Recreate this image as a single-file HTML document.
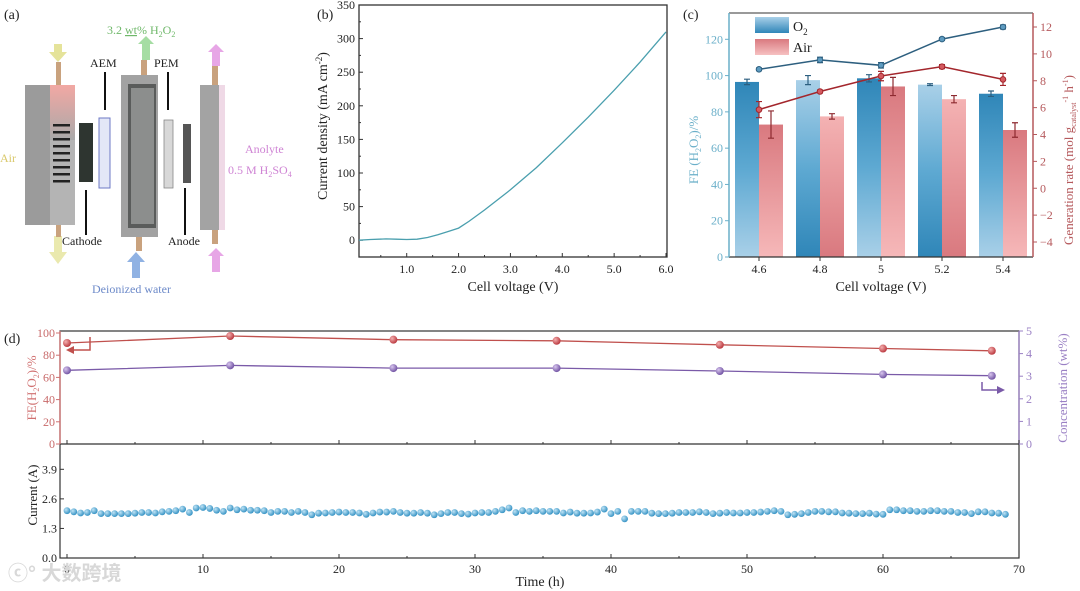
<!DOCTYPE html>
<html><head><meta charset="utf-8">
<style>
html,body{margin:0;padding:0;background:#fff;}
svg{display:block;font-family:"Liberation Serif","Noto Serif CJK SC",serif;}
</style></head>
<body>
<svg id="fig" width="1080" height="591" viewBox="0 0 1080 591" xmlns="http://www.w3.org/2000/svg">
<defs>
  <linearGradient id="gBlueDark" x1="0" y1="0" x2="0" y2="1"><stop offset="0" stop-color="#2f86b8"/><stop offset="0.5" stop-color="#5ea9d2"/><stop offset="1" stop-color="#a9d0e8"/></linearGradient>
  <linearGradient id="gBlueLight" x1="0" y1="0" x2="0" y2="1"><stop offset="0" stop-color="#a9d0e8"/><stop offset="0.5" stop-color="#5ea9d2"/><stop offset="1" stop-color="#2f86b8"/></linearGradient>
  <linearGradient id="gRedDark" x1="0" y1="0" x2="0" y2="1"><stop offset="0" stop-color="#f4b2b3"/><stop offset="1" stop-color="#d9797f"/></linearGradient>
  <linearGradient id="gRedLight" x1="0" y1="0" x2="0" y2="1"><stop offset="0" stop-color="#d9797f"/><stop offset="1" stop-color="#f6b8b9"/></linearGradient>
  <linearGradient id="gLegB" x1="0" y1="0" x2="0" y2="1"><stop offset="0" stop-color="#a9d0e8"/><stop offset="1" stop-color="#2f86b8"/></linearGradient>
  <linearGradient id="gLegR" x1="0" y1="0" x2="0" y2="1"><stop offset="0" stop-color="#d9797f"/><stop offset="1" stop-color="#f6c0c1"/></linearGradient>
  <radialGradient id="gBall" cx="0.35" cy="0.35" r="0.7"><stop offset="0" stop-color="#bfe3f5"/><stop offset="1" stop-color="#2f8fc2"/></radialGradient>
  <radialGradient id="gRedBall" cx="0.35" cy="0.35" r="0.7"><stop offset="0" stop-color="#f4b0b0"/><stop offset="1" stop-color="#b8333a"/></radialGradient>
  <radialGradient id="gPurBall" cx="0.35" cy="0.35" r="0.7"><stop offset="0" stop-color="#d8c6ee"/><stop offset="1" stop-color="#6d4ea0"/></radialGradient>
  <linearGradient id="gPink" x1="0" y1="0" x2="0" y2="1"><stop offset="0" stop-color="#f2a8a3"/><stop offset="1" stop-color="#a9a9a9"/></linearGradient>
</defs>

<g id="panel-a">
  <text x="4" y="19" font-size="14" fill="#222">(a)</text>
  <text x="107" y="34" font-size="12" fill="#6fb86a">3.2 <tspan text-decoration="underline">wt</tspan>% H<tspan font-size="8" dy="3">2</tspan><tspan dy="-3">O</tspan><tspan font-size="8" dy="3">2</tspan></text>
  <polygon points="138,44 146,36 154,44 150,44 150,60 142,60 142,44" fill="#8fd48c" opacity="0.8"/>
  <polygon points="54,44 62,44 62,52 67,52 58,62 49,52 54,52" fill="#e5e39a"/>
  <polygon points="54,236 62,236 62,252 67,252 58,264 49,252 54,252" fill="#e5e39a" opacity="0.8"/>
  <polygon points="208,52 216,44 224,52 220,52 220,66 212,66 212,52" fill="#e7a6e6"/>
  <polygon points="208,256 216,248 224,256 220,256 220,272 212,272 212,256" fill="#e7a6e6"/>
  <polygon points="127,262 136,252 145,262 140,262 140,278 132,278 132,262" fill="#90b2e3"/>
  <rect x="56" y="62" width="5" height="23" fill="#c9a27e"/>
  <rect x="56" y="225" width="5" height="12" fill="#c9a27e"/>
  <rect x="141" y="60" width="6" height="16" fill="#c9a27e"/>
  <rect x="136" y="237" width="6" height="14" fill="#c9a27e"/>
  <rect x="212" y="66" width="6" height="19" fill="#c9a27e"/>
  <rect x="212" y="230" width="6" height="14" fill="#c9a27e"/>
  <rect x="25" y="85" width="50" height="140" fill="#9b9b9b"/>
  <rect x="50" y="85" width="25" height="140" fill="#b4b4b4"/>
  <rect x="50" y="85" width="25" height="55" fill="url(#gPink)"/>
  <g fill="#222">
    <rect x="53" y="124" width="17" height="2.5"/><rect x="53" y="131" width="17" height="2.5"/><rect x="53" y="138" width="17" height="2.5"/>
    <rect x="53" y="145" width="17" height="2.5"/><rect x="53" y="152" width="17" height="2.5"/><rect x="53" y="159" width="17" height="2.5"/>
    <rect x="53" y="166" width="17" height="2.5"/><rect x="53" y="173" width="17" height="2.5"/><rect x="53" y="180" width="17" height="2.5"/>
  </g>
  <rect x="79" y="123" width="14" height="59" fill="#2e3530"/>
  <rect x="99" y="118" width="11" height="70" fill="#e3e7f7" stroke="#6d78c6" stroke-width="1"/>
  <rect x="121" y="75" width="37" height="162" fill="#a2a2a2"/>
  <rect x="128" y="84" width="28" height="144" fill="#5a5c5b"/>
  <rect x="131" y="88" width="23" height="136" fill="#8c8e8d"/>
  <rect x="164" y="120" width="9" height="68" fill="#d8d8d8" stroke="#888" stroke-width="0.8"/>
  <rect x="183" y="124" width="8" height="59" fill="#555"/>
  <rect x="200" y="85" width="21" height="145" fill="#a3a3a3"/>
  <rect x="219" y="85" width="6" height="145" fill="#efd9e6"/>
  <g stroke="#111" stroke-width="2">
    <line x1="105" y1="72" x2="105" y2="110"/><line x1="86" y1="190" x2="86" y2="235"/>
    <line x1="168" y1="72" x2="168" y2="110"/><line x1="185" y1="188" x2="185" y2="235"/>
  </g>
  <text x="90" y="67" font-size="12" fill="#222">AEM</text>
  <text x="154" y="67" font-size="12" fill="#222">PEM</text>
  <text x="0" y="162" font-size="12" fill="#d9c86a">Air</text>
  <text x="245" y="153" font-size="12" fill="#cf84d4">Anolyte</text>
  <text x="228" y="174" font-size="12" fill="#cf84d4">0.5 M H<tspan font-size="8" dy="3">2</tspan><tspan dy="-3">SO</tspan><tspan font-size="8" dy="3">4</tspan></text>
  <text x="62" y="245" font-size="12" fill="#222">Cathode</text>
  <text x="168" y="245" font-size="12" fill="#222">Anode</text>
  <text x="92" y="293" font-size="12" fill="#6d8ac9">Deionized water</text>
</g>

<g id="panel-b"></g>
<g id="panel-c"></g>
<g id="panel-d"></g>
<text x="8" y="580" font-size="20" fill="#d8d8d8" font-family="'Liberation Sans','Noto Sans CJK SC',sans-serif" font-weight="bold">ⓒ° 大数跨境</text>
</svg>
<script>
const bVolt = [0.08,0.3,0.6,0.8,1.0,1.2,1.4,1.6,1.8,2.0,2.2,2.5,3.0,3.5,4.0,4.5,5.0,5.5,6.0];
const bCurr = [0,1,2,1.5,1,1.5,4,8,13,18,28,45,75,108,145,183,223,265,310];
const bXTicks = [1.0,2.0,3.0,4.0,5.0,6.0];
const bYTicks = [0,50,100,150,200,250,300,350];
const cCats = ['4.6','4.8','5','5.2','5.4'];
const cFeO2 = [96.5,97.5,98.5,95,90];
const cFeO2Err = [1.5,2.5,2,0.5,1.5];
const cFeAir = [73,77.5,94,87,70];
const cFeAirErr = [7.5,1.5,5,2,4];
const cRateO2 = [8.85,9.55,9.15,11.1,12.0];
const cRateO2Err = [0.1,0.2,0.2,0.1,0.15];
const cRateAir = [5.85,7.2,8.35,9.05,8.1];
const cRateAirErr = [0.6,0.1,0.35,0.15,0.45];
const cLeftTicks = [0,20,40,60,80,100,120];
const cRightTicks = [-4,-2,0,2,4,6,8,10,12];
const dSampleTimes = [0,12,24,36,48,60,68];
const dFE = [91,97.3,94,93,89.4,86,84];
const dConc = [3.26,3.48,3.36,3.36,3.23,3.08,3.02];
const dCurrent = [
2.08,2.03,1.98,2.0,2.08,1.95,1.95,1.95,1.95,1.95,
1.97,2.0,2.0,1.98,2.03,2.05,2.08,2.15,2.0,2.2,
2.22,2.18,2.1,2.05,2.2,2.12,2.15,2.1,2.1,2.08,
2.0,2.05,2.05,2.0,2.05,2.0,1.9,1.97,1.98,2.0,
2.02,2.0,2.0,1.98,1.92,1.98,2.02,2.02,2.05,2.0,
1.97,1.97,2.0,1.97,1.9,1.95,2.0,2.0,1.95,1.93,
1.98,2.0,2.0,2.05,2.12,2.2,2.0,2.08,2.05,2.08,
2.05,2.05,2.05,1.98,2.02,1.97,1.97,1.98,2.02,2.15,
1.95,2.05,1.72,2.05,2.05,2.05,1.97,1.95,1.95,1.97,
2.0,2.0,2.0,2.03,2.0,1.95,1.97,2.0,1.98,1.98,
2.0,2.0,2.02,2.05,2.08,2.05,1.9,1.92,1.95,2.0,
2.05,2.05,2.03,2.03,1.98,1.97,1.95,1.95,1.97,1.93,
1.92,2.12,2.12,2.08,2.08,2.05,2.05,2.08,2.08,2.05,
2.05,2.0,2.0,1.95,2.03,2.03,1.98,1.97,1.92];
const dCurrentStep = 0.5;
const dXTicks = [0,10,20,30,40,50,60,70];
const dFETicks = [0,20,40,60,80,100];
const dConcTicks = [0,1,2,3,4,5];
const dCurTicks = [0.0,1.3,2.6,3.9];

const NS='http://www.w3.org/2000/svg';
function mk(parent,tag,attrs,text){const e=document.createElementNS(NS,tag);for(const k in attrs)e.setAttribute(k,attrs[k]);if(text!==undefined)e.textContent=text;parent.appendChild(e);return e;}
function lin(d0,d1,r0,r1){return v=>r0+(v-d0)/(d1-d0)*(r1-r0);}

(function(){
const g=document.getElementById('panel-b');
const L=359,R=667,T=5,B=257;
const x=lin(0.08,6.0,L,666), y=lin(-25,350,B,T);
let e=mk(g,'rect',{x:L,y:T,width:R-L,height:B-T,fill:'none',stroke:'#333','stroke-width':1.3});


bXTicks.forEach(v=>{mk(g,'line',{x1:x(v),x2:x(v),y1:B,y2:B-4,stroke:'#333'});
 e=mk(g,'text',{x:x(v),y:B+16,'font-size':12,'text-anchor':'middle',fill:'#222'},v.toFixed(1));
 
 
 mk(g,'line',{x1:x(v-0.5),x2:x(v-0.5),y1:B,y2:B-2,stroke:'#333'});});
bYTicks.forEach(v=>{mk(g,'line',{x1:L,x2:L+4,y1:y(v),y2:y(v),stroke:'#333'});mk(g,'line',{x1:L,x2:L+2,y1:y(v+25),y2:y(v+25),stroke:'#333'});
 e=mk(g,'text',{x:L-4,y:y(v)+4,'font-size':12,'text-anchor':'end',fill:'#222'},v);
 
 });
e=mk(g,'text',{x:317,y:19,'font-size':14,fill:'#222'},'(b)');


e=mk(g,'text',{x:513,y:291,'font-size':14,'text-anchor':'middle',fill:'#222'},'Cell voltage (V)');


e=mk(g,'text',{x:0,y:0,'font-size':14,'text-anchor':'middle',fill:'#222',transform:'translate(327,126) rotate(-90)'});
e.innerHTML='Current density (mA cm<tspan font-size="9" dy="-5">-2</tspan><tspan dy="5">)</tspan>';


const pts=bVolt.map((v,i)=>x(v).toFixed(1)+','+y(bCurr[i]).toFixed(1)).join(' ');
e=mk(g,'polyline',{points:pts,fill:'none',stroke:'#4a9fae','stroke-width':1.3});


})();

(function(){
const g=document.getElementById('panel-c');
const L=729,R=1033,T=13,B=257;
const yL=lin(0,120,B,39.3), yR=lin(12,-4,27,242);
const step=61, x0=759;
const xc=i=>x0+i*step;
let e;
cCats.forEach((c,i)=>{
 e=mk(g,'rect',{x:xc(i)-24,y:yL(cFeO2[i]),width:24,height:B-yL(cFeO2[i]),fill:(i%2===0)?'url(#gBlueDark)':'url(#gBlueLight)'});
 
 
 e=mk(g,'rect',{x:xc(i),y:yL(cFeAir[i]),width:24,height:B-yL(cFeAir[i]),fill:(i%2===0)?'url(#gRedLight)':'url(#gRedDark)'});
 
 
 [[xc(i)-12,cFeO2[i],cFeO2Err[i],'#2c5f80'],[xc(i)+12,cFeAir[i],cFeAirErr[i],'#8e2a30']].forEach(a=>{
  const y1=yL(a[1]+a[2]),y2=yL(a[1]-a[2]);
  mk(g,'path',{d:`M${a[0]},${y1}V${y2}M${a[0]-3},${y1}h6M${a[0]-3},${y2}h6`,stroke:a[3],'stroke-width':1.2,fill:'none'});
 });
});
[[cRateO2,cRateO2Err,'#2d5f7f','#5e9bc0','rate-o2-line'],[cRateAir,cRateAirErr,'#a3262c','#d45a60','rate-air-line']].forEach(s=>{
 const pts=s[0].map((v,i)=>xc(i)+','+yR(v).toFixed(1)).join(' ');
 e=mk(g,'polyline',{points:pts,fill:'none',stroke:s[2],'stroke-width':1.5});
 
 
 s[0].forEach((v,i)=>{
  const y1=yR(v+s[1][i]),y2=yR(v-s[1][i]);
  mk(g,'path',{d:`M${xc(i)},${y1}V${y2}M${xc(i)-3},${y1}h6M${xc(i)-3},${y2}h6`,stroke:s[2],'stroke-width':1.2,fill:'none'});
  e=mk(g,'circle',{cx:xc(i),cy:yR(v),r:2.8,fill:s[3],stroke:s[2],'stroke-width':1});
  
  
 });
});
mk(g,'line',{x1:L,y1:T,x2:R,y2:T,stroke:'#333','stroke-width':1});
mk(g,'line',{x1:L,y1:B,x2:R,y2:B,stroke:'#333','stroke-width':1.3});
mk(g,'line',{x1:L,y1:T,x2:L,y2:B,stroke:'#6aafc9','stroke-width':1.5});
mk(g,'line',{x1:R,y1:T,x2:R,y2:B,stroke:'#b5595c','stroke-width':1.5});
cCats.forEach((c,i)=>{mk(g,'line',{x1:xc(i),x2:xc(i),y1:B,y2:B+4,stroke:'#333'});
 e=mk(g,'text',{x:xc(i),y:B+16,'font-size':12,'text-anchor':'middle',fill:'#222'},c);
 
 });
cLeftTicks.forEach(v=>{mk(g,'line',{x1:L,x2:L-4,y1:yL(v),y2:yL(v),stroke:'#6aafc9'});
 e=mk(g,'text',{x:L-6,y:yL(v)+4,'font-size':12,'text-anchor':'end',fill:'#6aafc9'},v);
 
 });
cRightTicks.forEach(v=>{mk(g,'line',{x1:R,x2:R+4,y1:yR(v),y2:yR(v),stroke:'#b5595c'});
 e=mk(g,'text',{x:R+7,y:yR(v)+4,'font-size':12,fill:'#b5595c'},v<0?'\u2212'+(-v):v);
 
 });
e=mk(g,'text',{x:683,y:19,'font-size':14,fill:'#222'},'(c)');


e=mk(g,'text',{x:881,y:291,'font-size':14,'text-anchor':'middle',fill:'#222'},'Cell voltage (V)');


e=mk(g,'text',{x:0,y:0,'font-size':13,'text-anchor':'middle',fill:'#6aafc9',transform:'translate(698,150) rotate(-90)'});
e.innerHTML='FE (H<tspan font-size="8" dy="3">2</tspan><tspan dy="-3">O</tspan><tspan font-size="8" dy="3">2</tspan><tspan dy="-3">)/%</tspan>';


e=mk(g,'text',{x:0,y:0,'font-size':13,'text-anchor':'middle',fill:'#b5595c',transform:'translate(1073,160) rotate(-90)'});
e.innerHTML='Generation rate (mol g<tspan font-size="8" dy="3">catalyst</tspan><tspan font-size="8" dy="-8">-1</tspan><tspan dy="5"> h</tspan><tspan font-size="8" dy="-5">-1</tspan><tspan dy="5">)</tspan>';


e=mk(g,'rect',{x:755,y:17,width:34,height:16,fill:'url(#gLegB)'});


e=mk(g,'text',{x:793,y:31,'font-size':14,fill:'#222'});
e.innerHTML='O<tspan font-size="9" dy="4">2</tspan>';


e=mk(g,'rect',{x:755,y:39,width:34,height:16,fill:'url(#gLegR)'});


e=mk(g,'text',{x:793,y:52,'font-size':14,fill:'#222'},'Air');


})();

(function(){
const g=document.getElementById('panel-d');
const L=60,R=1019,T=331,M=444,B=558;
const x=lin(0,70,67,1019);
const yFE=lin(0,100,M,333), yC=lin(0,5,M,331), yI=lin(0,3.9,B,469.3);
let e;
mk(g,'rect',{x:L,y:T,width:R-L,height:B-T,fill:'none',stroke:'#333','stroke-width':1.2});
mk(g,'line',{x1:L,y1:M,x2:R,y2:M,stroke:'#333','stroke-width':1.2});
mk(g,'line',{x1:L,y1:T,x2:L,y2:M,stroke:'#d07070','stroke-width':1.3});
mk(g,'line',{x1:R,y1:T,x2:R,y2:M,stroke:'#9a80c4','stroke-width':1.3});
dXTicks.forEach(v=>{mk(g,'line',{x1:x(v),x2:x(v),y1:B,y2:B-4,stroke:'#333'});mk(g,'line',{x1:x(v),x2:x(v),y1:M,y2:M-4,stroke:'#333'});
 if(v<70){mk(g,'line',{x1:x(v+5),x2:x(v+5),y1:B,y2:B-2,stroke:'#333'});mk(g,'line',{x1:x(v+5),x2:x(v+5),y1:M,y2:M-2,stroke:'#333'});}
 e=mk(g,'text',{x:x(v),y:B+15,'font-size':12,'text-anchor':'middle',fill:'#222'},v);
 
 });
dFETicks.forEach(v=>{mk(g,'line',{x1:L,x2:L-4,y1:yFE(v),y2:yFE(v),stroke:'#d07070'});
 e=mk(g,'text',{x:L-5,y:yFE(v)+4,'font-size':12,'text-anchor':'end',fill:'#c86a6a'},v);
 
 });
dConcTicks.forEach(v=>{mk(g,'line',{x1:R,x2:R+4,y1:yC(v),y2:yC(v),stroke:'#9a80c4'});
 e=mk(g,'text',{x:R+7,y:yC(v)+4,'font-size':12,fill:'#9a80c4'},v);
 
 });
dCurTicks.forEach(v=>{mk(g,'line',{x1:L,x2:L+4,y1:yI(v),y2:yI(v),stroke:'#333'});
 e=mk(g,'text',{x:L-3,y:yI(v)+4,'font-size':12,'text-anchor':'end',fill:'#222'},v.toFixed(1));
 
 });
[[dFE,yFE,'#c0504d','url(#gRedBall)','fe-line'],[dConc,yC,'#7a5aa8','url(#gPurBall)','concentration-line']].forEach(s=>{
 const pts=s[0].map((v,i)=>x(dSampleTimes[i]).toFixed(1)+','+s[1](v).toFixed(1)).join(' ');
 e=mk(g,'polyline',{points:pts,fill:'none',stroke:s[2],'stroke-width':1.3});
 
 
 s[0].forEach((v,i)=>{e=mk(g,'circle',{cx:x(dSampleTimes[i]),cy:s[1](v),r:4,fill:s[3]});
  
  });
});
dCurrent.forEach((v,i)=>{e=mk(g,'circle',{cx:x(i*dCurrentStep),cy:yI(v),r:3.4,fill:'url(#gBall)'});
 
 });
mk(g,'path',{d:'M90,337V350H70',stroke:'#c0504d','stroke-width':1.5,fill:'none'});
mk(g,'polygon',{points:'66,350 74,346 74,354',fill:'#c0504d'});
mk(g,'path',{d:'M982,382V390H1000',stroke:'#7a5aa8','stroke-width':1.5,fill:'none'});
mk(g,'polygon',{points:'1005,390 997,386 997,394',fill:'#7a5aa8'});
e=mk(g,'text',{x:4,y:343,'font-size':14,fill:'#222'},'(d)');


e=mk(g,'text',{x:540,y:586,'font-size':14,'text-anchor':'middle',fill:'#222'},'Time (h)');


e=mk(g,'text',{x:0,y:0,'font-size':13,'text-anchor':'middle',fill:'#d07070',transform:'translate(36,388) rotate(-90)'});
e.innerHTML='FE(H<tspan font-size="8" dy="3">2</tspan><tspan dy="-3">O</tspan><tspan font-size="8" dy="3">2</tspan><tspan dy="-3">)/%</tspan>';


e=mk(g,'text',{x:0,y:0,'font-size':13,'text-anchor':'middle',fill:'#9a80c4',transform:'translate(1067,388) rotate(-90)'},'Concentration (wt%)');


e=mk(g,'text',{x:0,y:0,'font-size':13,'text-anchor':'middle',fill:'#222',transform:'translate(37,495) rotate(-90)'},'Current (A)');


})();
</script>
</body></html>
